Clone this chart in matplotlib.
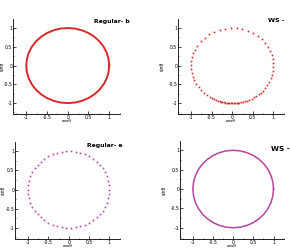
import matplotlib
matplotlib.use('agg')
import matplotlib.pyplot as plt
import numpy as np

# angles (degrees)
angles_reg_b = [0, 10, 20, 30, 40, 50, 60, 70, 80, 90, 100, 110, 120, 130, 140, 150, 160, 170, 180,
                190, 200, 210, 220, 230, 240, 250, 260, 270, 280, 290, 300, 310, 320, 330, 340, 350, 360]
angles_ws_b = [-58, -54, -50, -46, -42, -37, -32, -26, -20, -14, -8, -2, 4, 10, 16, 22, 29, 36, 44,
               52, 60, 68, 76, 84, 92, 100, 108, 116, 124, 132, 140, 148, 155, 161, 167, 173, 179,
               185, 191, 197, 203, 209, 215, 221, 227, 232, 237, 241, 244, 247, 250, 252, 254, 256,
               258, 260, 262, 264, 266, 268, 270, 272, 274, 276, 278, 280, 282, 285, 288, 291, 294, 298]
angles_reg_e = [0, 6.7, 13.3, 20, 26.7, 33.3, 40, 46.7, 53.3, 60, 66.7, 73.3, 80, 86.7, 93.3, 100,
                106.7, 113.3, 120, 126.7, 133.3, 140, 146.7, 153.3, 160, 166.7, 173.3, 180, 186.7,
                193.3, 200, 206.7, 213.3, 220, 226.7, 233.3, 240, 246.7, 253.3, 260, 266.7, 273.3,
                280, 286.7, 293.3, 300, 306.7, 313.3, 320, 326.7, 333.3, 340, 346.7, 353.3]
angles_ws_e = angles_reg_b

titles = ['Regular- b', 'WS -', 'Regular- e', 'WS -']
xticks = [-1, -0.5, 0, 0.5, 1]
yticks = [-1, -0.5, 0, 0.5, 1]
red = '#d42a2a'
magenta = '#b8449e'

W, H = 290, 249
fig = plt.figure(figsize=(2.9, 2.49), dpi=100)
fig.patch.set_facecolor('white')

# axes en pixels (gauche, haut, droite, bas) ; titre (x, y, taille) ; x du label y, haut du label x
panneaux = [
    ((13, 19, 120, 114), (94, 21, 4.4), 5, 119.5),
    ((178, 19, 284, 114), (268, 21, 4.6), 165, 119.5),
    ((15, 142, 120, 239), (87, 146, 4.4), 6, 244),
    ((180, 141, 284, 239), (271, 149, 5.2), 167, 244),
]

donnees = [
    (angles_reg_b, red, 'line'),
    (angles_ws_b, red, 'dots'),
    (angles_reg_e, magenta, 'dots'),
    (angles_ws_e, magenta, 'line'),
]

for (box, tpos, ylab_x, xlab_y), (ang, couleur, style_), titre in zip(panneaux, donnees, titles):
    g, h, d, b = box
    ax = fig.add_axes([g / W, 1 - b / H, (d - g) / W, (b - h) / H])
    th = np.radians(np.array(ang))
    if style_ == 'line':
        ax.plot(np.cos(th), np.sin(th), color=couleur, lw=1.4 if couleur == red else 1.1)
    else:
        ax.plot(np.cos(th), np.sin(th), 's', color=couleur, ms=1.2, mew=0)
    ax.set_xlim(-1.32, 1.26)
    ax.set_ylim(-1.29, 1.24)
    ax.set_xticks(xticks)
    ax.set_yticks(yticks)
    ax.set_xticklabels(['-1', '-0.5', '0', '0.5', '1'])
    ax.set_yticklabels(['-1', '-0.5', '0', '0.5', '1'])
    ax.set_xticks([-1.25, -0.75, -0.25, 0.25, 0.75, 1.25], minor=True)
    ax.set_yticks([-1.25, -0.75, -0.25, 0.25, 0.75], minor=True)
    ax.tick_params(labelsize=3.3, length=2, width=0.5, pad=0.5, direction='in')
    ax.tick_params(which='minor', length=1, width=0.4, direction='in')
    ax.spines['top'].set_visible(False)
    ax.spines['right'].set_visible(False)
    ax.spines['left'].set_linewidth(0.6)
    ax.spines['bottom'].set_linewidth(0.6)
    ax.set_xlabel('cos\u03b8', fontsize=3.2)
    ax.set_ylabel('sin\u03b8', fontsize=3.3)
    ax.yaxis.set_label_coords((ylab_x - g) / (d - g), 0.5)
    ax.xaxis.set_label_coords(0.5, (b - xlab_y) / (b - h))
    ax.set_facecolor('white')
    fig.text(tpos[0] / W, 1 - tpos[1] / H, titre, fontsize=tpos[2], fontweight='bold',
             ha='left', va='center')

fig.savefig('out.png', dpi=100)
